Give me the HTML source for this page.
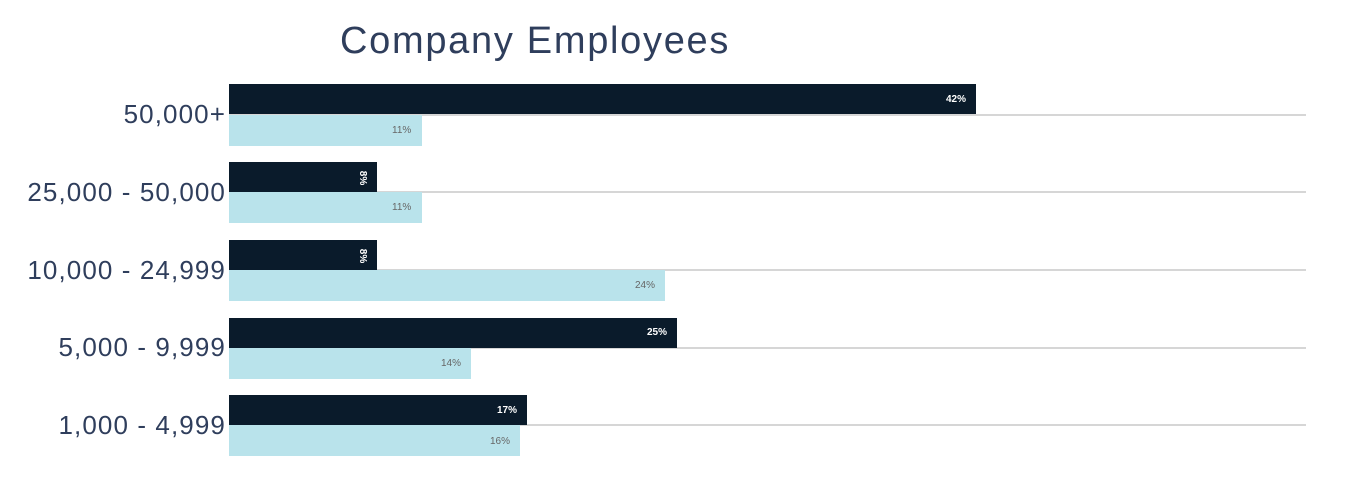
<!DOCTYPE html>
<html><head><meta charset="utf-8"><style>
body{margin:0;width:1348px;height:477px;background:#fff;overflow:hidden;font-family:"Liberation Sans",sans-serif;}
.t{position:absolute;left:340px;top:20px;font-size:38px;letter-spacing:1.7px;color:#2f3e5c;}
.g{position:absolute;left:229px;width:1077px;height:2px;background:#d6d6d6;}
.d{position:absolute;left:229px;height:30px;background:#0a1b2b;}
.l{position:absolute;left:229px;height:31px;background:#b9e3eb;}
.lb{position:absolute;right:1122px;font-size:26px;letter-spacing:1.1px;color:#2f3e5c;white-space:nowrap;}
.v{position:absolute;font-size:10px;line-height:10px;}
.dv{color:#fff;font-weight:bold;}
.lv{color:#666;}
</style></head><body>
<div class="t">Company Employees</div>
<div class="g" style="top:114px"></div>
<div class="g" style="top:191px"></div>
<div class="g" style="top:269px"></div>
<div class="g" style="top:347px"></div>
<div class="g" style="top:424px"></div>

<div class="d" style="top:84px;width:747px"></div>
<div class="l" style="top:115px;width:193px"></div>
<div class="d" style="top:162px;width:148px"></div>
<div class="l" style="top:192px;width:193px"></div>
<div class="d" style="top:240px;width:148px"></div>
<div class="l" style="top:270px;width:436px"></div>
<div class="d" style="top:318px;width:448px"></div>
<div class="l" style="top:348px;width:242px"></div>
<div class="d" style="top:395px;width:298px"></div>
<div class="l" style="top:425px;width:291px"></div>

<div class="v dv" style="left:946px;top:95px">42%</div>
<div class="v lv" style="left:392px;top:126px">11%</div>
<div class="v dv" style="left:355px;top:173px;transform:rotate(90deg)">8%</div>
<div class="v lv" style="left:392px;top:203px">11%</div>
<div class="v dv" style="left:355px;top:251px;transform:rotate(90deg)">8%</div>
<div class="v lv" style="left:635px;top:281px">24%</div>
<div class="v dv" style="left:647px;top:328px">25%</div>
<div class="v lv" style="left:441px;top:359px">14%</div>
<div class="v dv" style="left:497px;top:406px">17%</div>
<div class="v lv" style="left:490px;top:437px">16%</div>

<div class="lb" style="top:99px">50,000+</div>
<div class="lb" style="top:177px">25,000 - 50,000</div>
<div class="lb" style="top:255px">10,000 - 24,999</div>
<div class="lb" style="top:332px">5,000 - 9,999</div>
<div class="lb" style="top:410px">1,000 - 4,999</div>
</body></html>
